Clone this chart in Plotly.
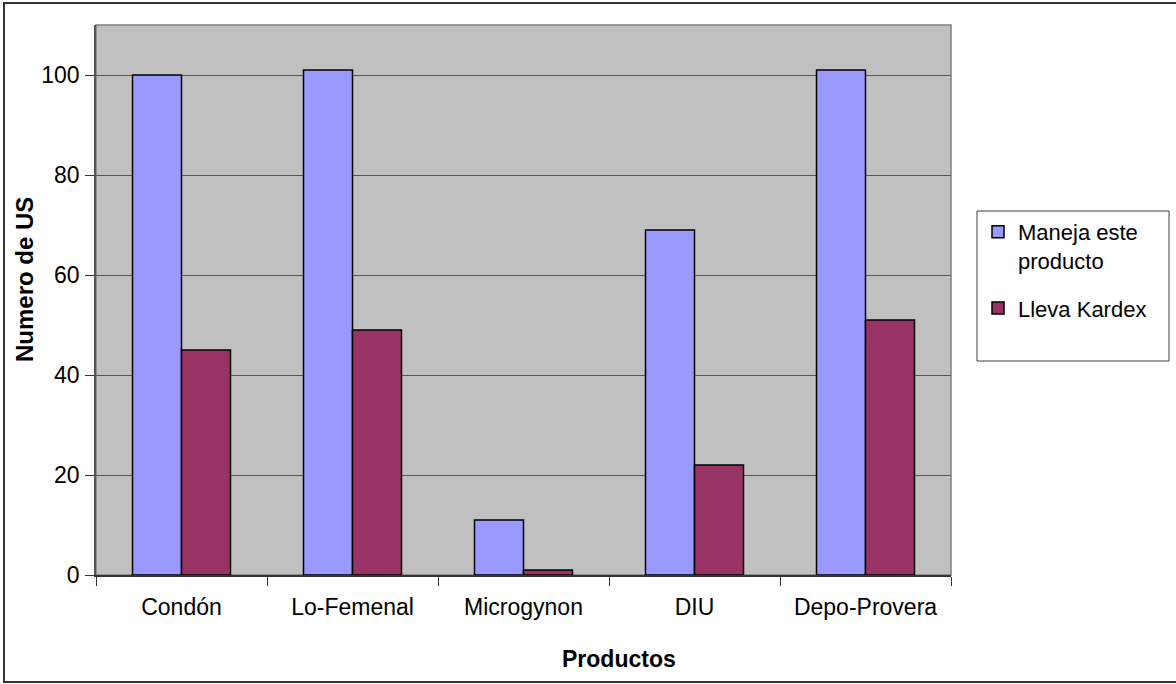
import plotly.graph_objects as go

categories = ["Condón", "Lo-Femenal", "Microgynon", "DIU", "Depo-Provera"]
maneja = [100, 101, 11, 69, 101]
kardex = [45, 49, 1, 22, 51]
series_names = ["Maneja este<br>producto", "Lleva Kardex"]
y_ticks = [0, 20, 40, 60, 80, 100]

W, H = 1176, 684
L, R, T, B = 96, 951, 25, 575
pw, ph = R - L, B - T

def px(x):
    return (x - L) / pw

def py(y):
    return (B - y) / ph

FONT = "Liberation Sans, Arial, sans-serif"
FS = 23

fig = go.Figure()
fig.add_trace(go.Bar(x=categories, y=maneja, name=series_names[0], legendgroup="a",
                     marker=dict(color="#9999FF", line=dict(color="black", width=1.5))))
fig.add_trace(go.Bar(x=categories, y=kardex, name=series_names[1], legendgroup="b",
                     marker=dict(color="#993366", line=dict(color="black", width=1.5))))

shapes = [
    # plot area border
    dict(type="rect", xref="paper", yref="paper", x0=0, x1=1, y0=0, y1=1,
         line=dict(color="#808080", width=1.5), layer="below"),
    # legend box
    dict(type="rect", xref="paper", yref="paper", x0=px(977), x1=px(1169), y0=py(361), y1=py(211),
         line=dict(color="#404040", width=1)),
    # outer chart border
    dict(type="rect", xref="paper", yref="paper", x0=px(4), x1=px(1185), y0=py(682), y1=py(3),
         line=dict(color="#333333", width=2)),
]

annotations = [
    dict(text="<b>Productos</b>", xref="paper", yref="paper", x=px(619), y=py(659),
         showarrow=False, font=dict(family=FONT, size=23, color="black"),
         xanchor="center", yanchor="middle"),
    dict(text="<b>Numero de US</b>", xref="paper", yref="paper", x=px(24), y=py(280),
         showarrow=False, textangle=-90, font=dict(family=FONT, size=24, color="black"),
         xanchor="center", yanchor="middle"),
]

fig.update_layout(
    width=W, height=H,
    margin=dict(l=L, r=W - R, t=T, b=H - B, pad=0),
    paper_bgcolor="white",
    plot_bgcolor="#C0C0C0",
    barmode="group",
    bargap=0.427,
    bargroupgap=0,
    font=dict(family=FONT, size=FS, color="black"),
    showlegend=True,
    legend=dict(x=px(978), xanchor="left", y=py(211), yanchor="top",
                bgcolor="rgba(0,0,0,0)", borderwidth=0, valign="top",
                tracegroupgap=16, font=dict(family=FONT, size=22, color="black")),
    shapes=shapes,
    annotations=annotations,
    xaxis=dict(type="category", tickson="boundaries", ticks="outside", ticklen=9,
               tickcolor="#333333", showline=True, linecolor="#333333", linewidth=1.5,
               showgrid=False, ticklabelstandoff=11, tickfont=dict(family=FONT, size=FS)),
    yaxis=dict(range=[0, 110], tickvals=y_ticks, ticks="outside", ticklen=9,
               tickcolor="#333333", showline=True, linecolor="#555555", linewidth=1.5,
               showgrid=True, gridcolor="#555555", gridwidth=1, zeroline=False,
               ticklabelstandoff=1, tickfont=dict(family=FONT, size=FS)),
)

fig.write_html("out.html", config={"displayModeBar": False},
               post_script="document.body.style.margin='0';document.body.style.overflow='hidden';")
